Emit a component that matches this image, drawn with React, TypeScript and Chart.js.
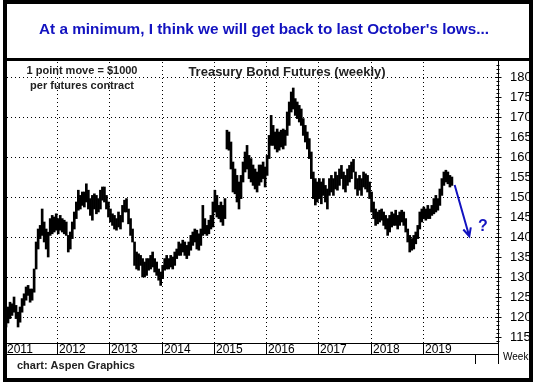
import React, { useEffect, useRef } from "react";
import { Chart, registerables } from "chart.js";
Chart.register(...registerables);

// ---- data (bi-weekly high/low ranges) ----
const startYear = 2011;
const periodsPerYear = 26;
const highs = [
  122, 122.5, 123.7, 123.3, 125, 122.9, 121.2, 122.5, 124.6, 125.8,
  127.5, 127.9, 127, 127, 132, 138.75, 142, 142.9, 147, 143.75,
  142, 141.2, 144.6, 145.4, 145, 145.8, 144.6, 145.4, 144.6, 144.2,
  143.75, 140.4, 141.25, 143.75, 146.25, 148.75, 151.7, 150.4, 151.25, 151.25,
  153.3, 151.7, 149.6, 150.4, 150.8, 150.4, 149.6, 151.7, 152.5, 152.5,
  150.4, 148.75, 147, 145.8, 145.4, 144.6, 146.25, 145.4, 147.9, 149.2,
  149.6, 147, 144.6, 142, 138.75, 136.25, 135.8, 135.4, 134.6, 133.75,
  134.6, 134.6, 135.4, 136.25, 134.6, 133.75, 132, 131.25, 132.9, 134.6,
  135.4, 134.6, 135.4, 135, 136.25, 137, 138.75, 138.3, 139.2, 138.75,
  137.9, 138.75, 140.4, 141.25, 142, 141.7, 140.8, 142, 147.9, 144.6,
  142.9, 144.2, 145.4, 148.75, 151.7, 150.4, 147.9, 148.75, 147.9, 149.6,
  166.7, 166.25, 163.75, 158.75, 157, 155.4, 153.75, 155.4, 158.75, 161.25,
  162.9, 160.4, 159.6, 158, 157, 156.25, 158, 158, 158.75, 157.5,
  160.4, 165.4, 170.4, 167.9, 166.25, 167, 166.25, 166.7, 167, 166.7,
  171.25, 173.75, 176.25, 177.25, 174.6, 173.75, 172.9, 172, 169.6, 167.9,
  166.25, 164.6, 161.25, 156.25, 154.6, 153.75, 154.6, 153.75, 154.6, 152.9,
  152, 154.6, 155.4, 154.6, 156.25, 155.4, 157, 157.9, 156.25, 155.4,
  157, 157.9, 158.75, 159.4, 156.25, 154.6, 155.4, 154.6, 156.25, 155.8,
  155.4, 153.75, 151.25, 148.75, 147, 146.25, 146.7, 147, 146.25, 145.4,
  144.6, 145.4, 146.25, 145.8, 146.7, 145.4, 146.25, 146.7, 146.25, 144.6,
  142, 140.4, 139.6, 140.4, 141.25, 142.9, 146.25, 147, 147.5, 147,
  147.9, 147, 147.9, 149.6, 150.4, 149.6, 152, 154.6, 156.25, 156.7,
  156.25, 155.4, 155,
];
const lows = [
  117.5, 118.5, 119.6, 120.4, 121.2, 119.6, 117.5, 118.7, 121.2, 122.9,
  124.2, 125.4, 123.7, 124.2, 126.2, 132, 137, 139.6, 140.4, 138.75,
  137, 135, 140.4, 140.8, 141.25, 141.7, 140.8, 141.7, 141.25, 140.8,
  140.4, 136.25, 137, 139.6, 142, 144.6, 146.7, 147, 147.9, 147.5,
  148.75, 147, 145.4, 144.2, 147, 145.8, 146.25, 147, 149.2, 148.75,
  147, 145, 143.75, 142.9, 142, 141.7, 142.5, 142, 143.75, 146.25,
  146.25, 143.3, 140.4, 138.75, 132.9, 132, 131.7, 132.9, 130, 130,
  130.4, 131.7, 132, 132.5, 131.25, 130.4, 129.2, 127.9, 129.6, 131.7,
  132, 132, 132.5, 132, 132.9, 134.6, 135.4, 135.4, 136.25, 135.4,
  134.6, 135.4, 136.7, 137.9, 138.75, 137, 136.7, 137.9, 140.4, 140.8,
  140.4, 140.8, 142, 142.5, 146.25, 145, 144.6, 143.75, 142.9, 144.6,
  162, 161.7, 157, 151.25, 150.8, 148.75, 147, 149.6, 153.75, 156.25,
  157, 154.6, 153.75, 152.9, 152, 151.25, 152.9, 153.75, 154.6, 152.5,
  155.4, 159.6, 162.9, 162.9, 162, 161.25, 161.7, 162.5, 162, 162.9,
  165.4, 167.9, 171.25, 172, 170.4, 169.6, 168.75, 167.9, 165.4, 163.75,
  162, 159.6, 154.6, 149.6, 148, 148.75, 149.6, 148.3, 150.4, 148.75,
  147, 150.4, 151.25, 150.4, 152, 151.7, 152.9, 154.6, 152, 151.25,
  152.9, 153.75, 154.6, 156.25, 152, 150.4, 151.7, 150.4, 152.5, 152,
  151.25, 149.6, 146.25, 144.6, 142.9, 143.3, 143.75, 144.2, 142.9, 142,
  140.4, 141.25, 142.5, 142.9, 142.9, 142, 142.9, 143.75, 142.9, 141.25,
  138.75, 136.25, 136.7, 137, 138.3, 139.6, 142, 143.75, 144.6, 144.2,
  144.6, 144.6, 145.4, 145.8, 146.25, 146.7, 147.9, 150.4, 152.9, 153.75,
  153.3, 152.5, 152.9,
];
const yearLabels = ["2011", "2012", "2013", "2014", "2015", "2016", "2017", "2018", "2019"];
const gridYears = [2012, 2013, 2014, 2015, 2016, 2017, 2018, 2019];
const gridPrices = [120, 130, 140, 150, 160, 170, 180];
const yTickValues = [115, 120, 125, 130, 135, 140, 145, 150, 155, 160, 165, 170, 175, 180];
const arrowFrom = { x: 2019.61, y: 153 };
const arrowTo = { x: 2019.89, y: 140.2 };
const questionAt = { x: 2020.15, y: 142.6 };

const titleText = "At a minimum, I think we will get back to last October's lows...";
const noteLine1 = "1 point move = $1000";
const noteLine2 = "per futures contract";
const chartTitle = "Treasury Bond Futures (weekly)";
const creditText = "chart: Aspen Graphics";

const X_MIN = 2011;
const X_MAX = 2020.44;
const Y_MIN = 113.5;
const Y_MAX = 184;

const FONT = '"Liberation Sans", Arial, sans-serif';
const BLUE = "#1212c0";

function drawGrid(chart: any) {
  const ctx = chart.ctx;
  const xs = chart.scales.x;
  const ys = chart.scales.y;
  const a = chart.chartArea;
  ctx.save();
  ctx.fillStyle = "#000000";
  gridYears.forEach((yr) => {
    const xp = Math.round(xs.getPixelForValue(yr));
    for (let yy = Math.ceil(a.top) + 1; yy < a.bottom; yy += 4) ctx.fillRect(xp, yy, 1, 1);
  });
  gridPrices.forEach((v) => {
    const yp = Math.round(ys.getPixelForValue(v));
    for (let xx = Math.ceil(a.left) + 2; xx < a.right; xx += 4) ctx.fillRect(xx, yp, 1, 1);
  });
  ctx.restore();
}

const decorPlugin = {
  id: "decor",
  beforeDraw(chart: any) {
    const ctx = chart.ctx;
    ctx.save();
    ctx.fillStyle = "#ffffff";
    ctx.fillRect(0, 0, chart.width, chart.height);
    ctx.restore();
  },
  afterDraw(chart: any) {
    const ctx = chart.ctx;
    const xs = chart.scales.x;
    const ys = chart.scales.y;
    const a = chart.chartArea;

    drawGrid(chart);

    ctx.save();
    // plot bottom line + year row
    ctx.strokeStyle = "#000";
    ctx.lineWidth = 1;
    ctx.beginPath();
    ctx.moveTo(a.left, Math.round(a.bottom) + 0.5);
    ctx.lineTo(a.right, Math.round(a.bottom) + 0.5);
    ctx.moveTo(a.left, Math.round(a.bottom) + 11.5);
    ctx.lineTo(a.right, Math.round(a.bottom) + 11.5);
    ctx.stroke();

    ctx.font = `12px ${FONT}`;
    ctx.fillStyle = "#000";
    ctx.textAlign = "left";
    ctx.textBaseline = "middle";
    yearLabels.forEach((lab, i) => {
      const xp = Math.round(xs.getPixelForValue(startYear + i)) + 0.5;
      if (i > 0) {
        ctx.beginPath();
        ctx.moveTo(xp, a.bottom);
        ctx.lineTo(xp, a.bottom + 11);
        ctx.stroke();
      }
      ctx.fillText(lab, xp + 1.5, a.bottom + 6.5);
    });
    const x20 = Math.round(xs.getPixelForValue(2020)) + 0.5;
    ctx.beginPath();
    ctx.moveTo(x20, a.bottom + 11);
    ctx.lineTo(x20, a.bottom + 21);
    ctx.stroke();

    // right axis line + minor ticks
    const ax = Math.round(a.right) + 0.5;
    ctx.beginPath();
    ctx.moveTo(ax, a.top);
    ctx.lineTo(ax, a.bottom + 21);
    ctx.stroke();
    ctx.beginPath();
    for (let v = 114; v <= 183; v++) {
      const yp = Math.round(ys.getPixelForValue(v)) + 0.5;
      if (v % 5 === 0) {
        ctx.moveTo(ax - 3, yp);
        ctx.lineTo(ax + 3, yp);
      } else {
        ctx.moveTo(ax - 2, yp);
        ctx.lineTo(ax + 1, yp);
      }
    }
    ctx.stroke();

    ctx.font = `10px ${FONT}`;
    ctx.fillText("Week", ax + 4.5, a.bottom + 14);

    // in-plot notes
    ctx.fillStyle = "#222";
    ctx.font = `bold 11px ${FONT}`;
    ctx.textAlign = "center";
    ctx.fillText(noteLine1, 82, 71);
    ctx.fillText(noteLine2, 82, 85.5);
    ctx.font = `bold 13px ${FONT}`;
    ctx.fillText(chartTitle, 287, 72);

    ctx.font = `bold 11px ${FONT}`;
    ctx.textAlign = "left";
    ctx.fillText(creditText, 17, 365.5);

    // arrow
    const x1 = xs.getPixelForValue(arrowFrom.x);
    const y1 = ys.getPixelForValue(arrowFrom.y);
    const x2 = xs.getPixelForValue(arrowTo.x);
    const y2 = ys.getPixelForValue(arrowTo.y);
    ctx.strokeStyle = BLUE;
    ctx.lineWidth = 2;
    ctx.beginPath();
    ctx.moveTo(x1, y1);
    ctx.lineTo(x2, y2);
    const ang = Math.atan2(y2 - y1, x2 - x1);
    const hl = 9;
    ctx.moveTo(x2 - hl * Math.cos(ang - 0.45), y2 - hl * Math.sin(ang - 0.45));
    ctx.lineTo(x2, y2);
    ctx.lineTo(x2 - hl * Math.cos(ang + 0.45), y2 - hl * Math.sin(ang + 0.45));
    ctx.stroke();
    ctx.fillStyle = BLUE;
    ctx.font = `bold 16px ${FONT}`;
    ctx.textAlign = "center";
    ctx.fillText("?", xs.getPixelForValue(questionAt.x), ys.getPixelForValue(questionAt.y));

    // frame
    ctx.fillStyle = "#000";
    ctx.fillRect(3, 0, 530, 4);
    ctx.fillRect(3, 0, 4, 382);
    ctx.fillRect(529, 0, 4, 382);
    ctx.fillRect(3, 378, 530, 4);
    ctx.fillRect(3, 58, 530, 3);

    // title
    ctx.fillStyle = BLUE;
    ctx.font = `bold 15.3px ${FONT}`;
    ctx.textAlign = "center";
    ctx.textBaseline = "middle";
    ctx.fillText(titleText, 264, 30);

    ctx.restore();
  },
};

export default function App() {
  const ref = useRef<HTMLCanvasElement | null>(null);
  useEffect(() => {
    if (!ref.current) return;
    const data = highs.map((h, i) => ({
      x: startYear + (i + 0.5) / periodsPerYear,
      y: [lows[i], h],
    }));
    const chart = new Chart(ref.current, {
      type: "bar",
      data: {
        datasets: [
          {
            data: data as any,
            backgroundColor: "#000",
            borderWidth: 0,
            barThickness: 2,
          },
        ],
      },
      options: {
        animation: false,
        responsive: false,
        devicePixelRatio: 1,
        layout: { padding: { left: 5, top: 61, right: 0, bottom: 40 } },
        plugins: { legend: { display: false }, tooltip: { enabled: false } },
        scales: {
          x: {
            type: "linear",
            min: X_MIN,
            max: X_MAX,
            offset: false,
            afterFit: (s: any) => {
              s.height = 0;
            },
            ticks: { display: false },
            grid: { display: false },
            border: { display: false },
          },
          y: {
            type: "linear",
            position: "right",
            min: Y_MIN,
            max: Y_MAX,
            afterBuildTicks: (s: any) => {
              s.ticks = yTickValues.map((v) => ({ value: v }));
            },
            afterFit: (s: any) => {
              s.width = 36;
            },
            ticks: {
              color: "#000",
              padding: 4,
              font: { family: FONT, size: 13 },
            },
            grid: { display: false },
            border: { display: false },
          },
        },
      },
      plugins: [decorPlugin],
    });
    return () => chart.destroy();
  }, []);
  return (
    <div style={{ position: "absolute", left: 0, top: 0, width: 534, height: 383 }}>
      <canvas ref={ref} width={534} height={383} style={{ display: "block" }} />
    </div>
  );
}
